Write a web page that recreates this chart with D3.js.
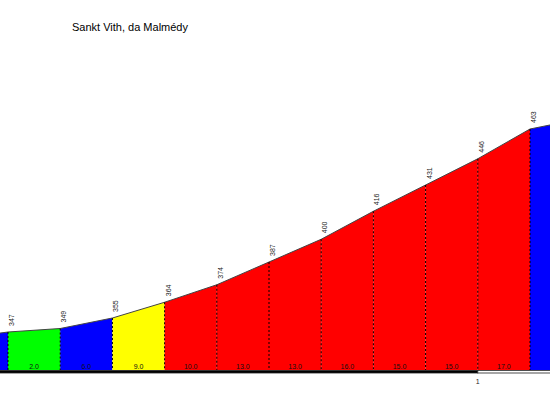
<!DOCTYPE html>
<html>
<head>
<meta charset="utf-8">
<script src="https://cdn.jsdelivr.net/npm/d3@7"></script>
<style>
  body { margin: 0; background: #fff; }
  svg { display: block; font-family: "Liberation Sans", Arial, sans-serif; }
</style>
</head>
<body>
<div id="plot"></div>
<script>
// profile points: distance (km) and altitude (m)
const kms = [0.0, 0.1, 0.2, 0.3, 0.4, 0.5, 0.6, 0.7, 0.8, 0.9, 1.0, 1.1, 1.2];
const alts = [343, 347, 349, 355, 364, 374, 387, 400, 416, 431, 446, 463, 469];
// gradient (%) of each 100 m stretch
const grades = [4.0, 2.0, 6.0, 9.0, 10.0, 13.0, 13.0, 16.0, 15.0, 15.0, 17.0, 6.0];
const kmTicks = [0, 1];
const title = "Sankt Vith, da Malmédy";

const width = 550, height = 400;
const baseY = 370;

const xScale = d3.scaleLinear().domain([0.1, 1.1]).range([8, 530]);
const yScale = d3.scaleLinear().domain([347, 463]).range([332, 129]);
const colorScale = d3.scaleThreshold()
    .domain([3, 8, 10])
    .range(["#00ff00", "#0000ff", "#ffff00", "#ff0000"]);

// only label what falls inside the window
const inView = x => x > 0 && x < width - 8;
const midX = d => (xScale(kms[d.i]) + xScale(kms[d.i + 1])) / 2;

const svg = d3.select("#plot")
    .append("svg")
    .attr("width", width)
    .attr("height", height);

svg.append("text")
    .attr("x", 72)
    .attr("y", 31)
    .attr("font-size", 11)
    .attr("fill", "#000")
    .text(title);

const segs = grades.map((g, i) => ({ i, g }));
const pts = alts.map((a, i) => ({ i, a }));

// coloured stretches
svg.append("g")
  .selectAll("path")
  .data(segs)
  .join("path")
    .attr("fill", d => colorScale(d.g))
    .attr("d", d => {
      const x0 = xScale(kms[d.i]), x1 = xScale(kms[d.i + 1]);
      return `M${x0},${baseY}L${x0},${yScale(alts[d.i])}L${x1},${yScale(alts[d.i + 1])}L${x1},${baseY}Z`;
    });

// ground line
const line = d3.line()
    .x((d, i) => xScale(kms[i]))
    .y(d => yScale(d));
svg.append("path")
    .attr("d", line(alts))
    .attr("fill", "none")
    .attr("stroke", "#444")
    .attr("stroke-width", 1);

// dotted verticals at each point
svg.append("g")
  .selectAll("line")
  .data(pts)
  .join("line")
    .attr("x1", d => xScale(kms[d.i]))
    .attr("x2", d => xScale(kms[d.i]))
    .attr("y1", d => yScale(d.a))
    .attr("y2", baseY)
    .attr("stroke", "#000")
    .attr("stroke-width", 1)
    .attr("stroke-dasharray", "2,2");

// altitude labels
svg.append("g")
  .selectAll("text")
  .data(pts.filter(d => inView(xScale(kms[d.i]))))
  .join("text")
    .attr("transform", d => `translate(${xScale(kms[d.i]) + 6},${yScale(d.a) - 6}) rotate(-90)`)
    .attr("font-size", 7)
    .attr("fill", "#222")
    .text(d => d.a);

// gradient labels
svg.append("g")
  .selectAll("text")
  .data(segs.filter(d => midX(d) > 10 && midX(d) < width - 10))
  .join("text")
    .attr("x", midX)
    .attr("y", 369)
    .attr("text-anchor", "middle")
    .attr("font-size", 7)
    .attr("fill", "#111")
    .text(d => d.g.toFixed(1));

// km bar
svg.append("g")
  .selectAll("rect")
  .data(kmTicks)
  .join("rect")
    .attr("x", d => xScale(d))
    .attr("y", baseY + 0.5)
    .attr("width", xScale(1) - xScale(0))
    .attr("height", 2.5)
    .attr("fill", (d, i) => i % 2 ? "#fff" : "#000")
    .attr("stroke", "#222")
    .attr("stroke-width", 0.8);

svg.append("g")
  .selectAll("text")
  .data(kmTicks.filter(d => d > 0))
  .join("text")
    .attr("x", d => xScale(d))
    .attr("y", 384)
    .attr("text-anchor", "middle")
    .attr("font-size", 7)
    .attr("fill", "#222")
    .text(d => d);
</script>
</body>
</html>
